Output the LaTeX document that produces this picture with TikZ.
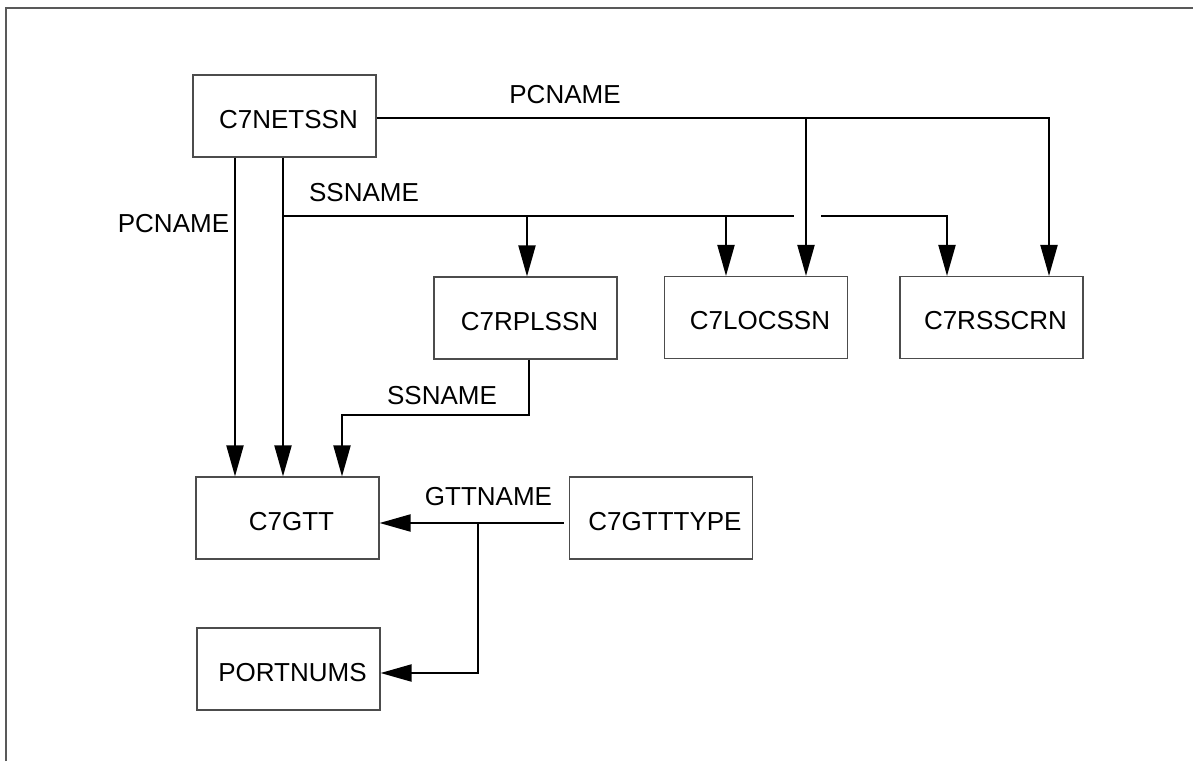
\documentclass[tikz,border=0pt]{standalone}
\usepackage{fontspec}
\setmainfont{Liberation Sans}
\usetikzlibrary{arrows.meta,calc}
\begin{document}
\begin{tikzpicture}[x=1pt,y=-1pt,
  tbl/.style={draw=black!70,line width=1.1pt,minimum width=183pt,minimum height=82pt,inner sep=0pt,
    font=\fontsize{26}{30}\selectfont,text height=24.6pt,text depth=0pt,
    execute at begin node=\hspace*{8pt}},
  lbl/.style={font=\fontsize{26}{30}\selectfont,inner sep=0pt},
  conn/.style={line width=2pt,line join=miter},
  arr/.style={conn,-{Triangle[length=31pt,width=17pt]}},
  frame/.style={draw=black!65,line width=1.5pt}]
\useasboundingbox (0,0) rectangle (1193,761);
\draw[frame] (6,761) -- (6,8) -- (1193,8);

\node[tbl] (netssn) at (284.5,116) {C7NETSSN};
\node[tbl] (rplssn) at (525.5,318) {C7RPLSSN};
\node[tbl] (locssn) at (756,317.5) {C7LOCSSN};
\node[tbl] (rsscrn) at (991.5,317.5) {C7RSSCRN};
\node[tbl] (gtt) at (287.5,518) {C7GTT};
\node[tbl] (gtttype) at (661,518) {C7GTTTYPE};
\node[tbl] (portnums) at (288.5,669) {PORTNUMS};

% junction / bend coordinates
\coordinate (pcE) at (1049,118);
\coordinate (pcJ) at (806,118);
\coordinate (ssS) at (283,216);
\coordinate (ssJ1) at (527,216);
\coordinate (ssJ2) at (726,216);
\coordinate (ssGapL) at (794,216);
\coordinate (ssGapR) at (821,216);
\coordinate (ssE) at (947,216);
\coordinate (rpB) at (529,415);
\coordinate (rpC) at (342,415);
\coordinate (gtJ) at (478,523);
\coordinate (gtB) at (478,673);

% PCNAME left: C7NETSSN -> C7GTT
\draw[arr] ([xshift=-49.5pt]netssn.south) -- ([xshift=-49.5pt]netssn.south |- gtt.north);
% SSNAME trunk: C7NETSSN -> C7GTT
\draw[arr] ([xshift=-1.5pt]netssn.south) -- ([xshift=-1.5pt]netssn.south |- gtt.north);
% SSNAME horizontal bus
\draw[conn] (ssS) -- (ssGapL);
\draw[arr] (ssJ1) -- (ssJ1 |- rplssn.north);
\draw[arr] (ssJ2) -- (ssJ2 |- locssn.north);
\draw[arr] (ssGapR) -- (ssE) -- (ssE |- rsscrn.north);
% PCNAME top
\draw[arr] (netssn.east |- pcE) -- (pcE) -- (pcE |- rsscrn.north);
\draw[arr] (pcJ) -- (pcJ |- locssn.north);
% SSNAME: C7RPLSSN -> C7GTT
\draw[arr] (rpB |- rplssn.south) -- (rpB) -- (rpC) -- (rpC |- gtt.north);
% GTTNAME
\draw[arr] ([xshift=-5pt]gtttype.west |- gtJ) -- (gtt.east |- gtJ);
\draw[arr] (gtJ) -- (gtB) -- (portnums.east |- gtB);

% labels
\node[lbl] (lpc1) at (565,95) {PCNAME};
\node[lbl] (lss1) at (364,193) {SSNAME};
\node[lbl] (lpc2) at (173.5,224) {PCNAME};
\node[lbl] (lss2) at (442,396) {SSNAME};
\node[lbl] (lgt) at (488.5,497) {GTTNAME};
\end{tikzpicture}
\end{document}
